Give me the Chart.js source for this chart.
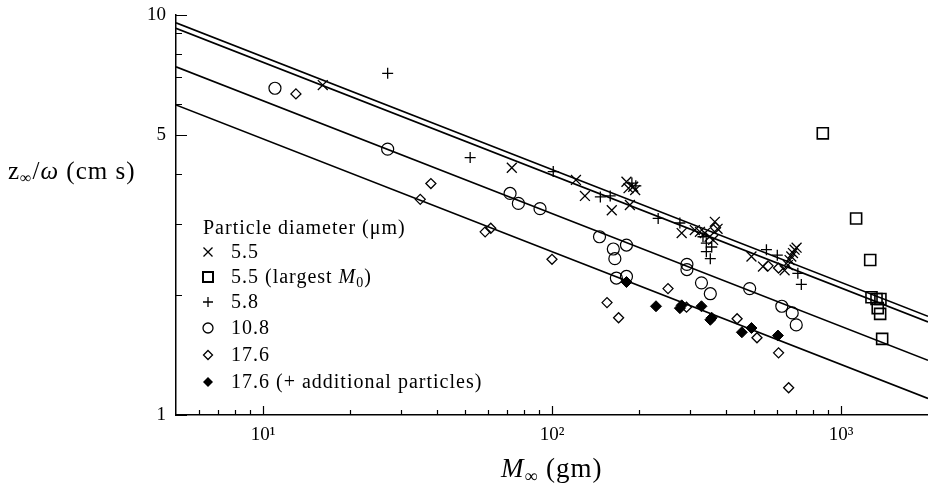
<!DOCTYPE html>
<html>
<head>
<meta charset="utf-8">
<script src="https://cdn.jsdelivr.net/npm/chart.js@4.4.1/dist/chart.umd.min.js"></script>
<style>
  html, body { margin: 0; padding: 0; background: #fff; }
</style>
</head>
<body>
<canvas id="fig" width="928" height="485"></canvas>
<script>
// axis ticks (log-log), labelled ones only at the decades / 1, 5, 10
const xTicks = [6, 7, 8, 9, 10, 20, 30, 40, 50, 60, 70, 80, 90, 100, 200, 300, 400, 500, 600, 700, 800, 900, 1000];
const xLabels = { 10: "10¹", 100: "10²", 1000: "10³" };
const yTicks = [1, 2, 3, 4, 5, 6, 7, 8, 9, 10];
const yLabels = { 1: "1", 5: "5", 10: "10" };
const xRange = [5, 2000];
const yRange = [1, 10];

// fitted power-law lines, value at M = 5 and at M = 2000
const fitM = [5, 2000];
const fitStart = [9.56, 9.26, 7.42, 5.96];
const fitEnd = [1.765, 1.709, 1.37, 1.1];

// 5.5 um
const crossM = [16.1, 72.6, 121, 130, 161, 181, 191, 194, 184, 186, 281, 312, 325, 338, 351, 361, 366, 374, 490, 537, 638, 655, 664, 673, 682, 691, 702];
const crossZ = [6.68, 4.15, 3.87, 3.53, 3.25, 3.83, 3.72, 3.65, 3.69, 3.35, 2.85, 2.9, 2.87, 2.85, 2.79, 2.74, 3.04, 2.92, 2.49, 2.35, 2.3, 2.37, 2.44, 2.49, 2.54, 2.59, 2.62];

// 5.5 um, largest M0
const squareM = [865, 1128, 1262, 1275, 1327, 1369, 1340, 1366, 1388];
const squareZ = [5.06, 3.1, 2.44, 1.97, 1.95, 1.95, 1.85, 1.79, 1.55];

// 5.8 um
const plusM = [27, 52.1, 101, 147, 159, 189, 195, 233, 277, 333, 342, 342, 353, 357, 552, 602, 709, 729];
const plusZ = [7.15, 4.4, 4.06, 3.51, 3.53, 3.8, 3.74, 3.1, 3.02, 2.79, 2.69, 2.56, 2.46, 2.63, 2.59, 2.51, 2.26, 2.12];

// 10.8 um
const circleM = [11, 27, 71.6, 76.5, 90.9, 146, 163, 165, 181, 167, 181, 293, 293, 329, 353, 483, 624, 678, 700];
const circleZ = [6.56, 4.62, 3.58, 3.38, 3.28, 2.79, 2.6, 2.46, 2.66, 2.2, 2.22, 2.38, 2.31, 2.14, 2.01, 2.07, 1.87, 1.8, 1.68];

// 17.6 um
const diamondM = [13, 38.1, 35, 58.7, 61.4, 100, 155, 170, 252, 292, 437, 512, 608, 559, 608, 368, 659];
const diamondZ = [6.35, 3.79, 3.46, 2.87, 2.93, 2.45, 1.91, 1.75, 2.07, 1.86, 1.74, 1.56, 1.43, 2.36, 2.33, 2.94, 1.17];

// 17.6 um (+ additional particles)
const solidM = [181, 229, 277, 281, 329, 353, 357, 454, 490, 605];
const solidZ = [2.15, 1.87, 1.85, 1.88, 1.87, 1.73, 1.75, 1.61, 1.65, 1.58];

const SERIF = '"Liberation Serif", "DejaVu Serif", serif';

const pts = (m, z) => m.map((v, i) => ({ x: v, y: z[i] }));

function fitLine(i) {
  return {
    type: "line",
    data: [{ x: fitM[0], y: fitStart[i] }, { x: fitM[1], y: fitEnd[i] }],
    borderColor: "#000",
    borderWidth: 1.6,
    pointRadius: 0,
    tension: 0,
    fill: false,
  };
}

function marks(m, z, style, r, fill, w) {
  return {
    type: "scatter",
    data: pts(m, z),
    pointStyle: style,
    pointRadius: r,
    pointBorderColor: "#000",
    pointBackgroundColor: fill ? "#000" : "rgba(0,0,0,0)",
    pointBorderWidth: w,
    borderColor: "#000",
    backgroundColor: fill ? "#000" : "rgba(0,0,0,0)",
  };
}

// legend marker shapes
function legendMark(ctx, kind, x, y) {
  ctx.beginPath();
  if (kind === "x") {
    ctx.moveTo(x - 4.5, y - 4.5); ctx.lineTo(x + 4.5, y + 4.5);
    ctx.moveTo(x + 4.5, y - 4.5); ctx.lineTo(x - 4.5, y + 4.5);
    ctx.lineWidth = 1.3; ctx.stroke();
  } else if (kind === "sq") {
    ctx.rect(x - 5, y - 5, 10, 10);
    ctx.lineWidth = 2; ctx.stroke();
  } else if (kind === "+") {
    ctx.moveTo(x - 5, y); ctx.lineTo(x + 5, y);
    ctx.moveTo(x, y - 5); ctx.lineTo(x, y + 5);
    ctx.lineWidth = 1.3; ctx.stroke();
  } else if (kind === "o") {
    ctx.arc(x, y, 5, 0, Math.PI * 2);
    ctx.lineWidth = 1.3; ctx.stroke();
  } else {
    const r = kind === "d" ? 4.5 : 5;
    ctx.moveTo(x, y - r); ctx.lineTo(x + r, y); ctx.lineTo(x, y + r); ctx.lineTo(x - r, y); ctx.closePath();
    ctx.lineWidth = 1.3;
    if (kind === "df") ctx.fill(); else ctx.stroke();
  }
}

// draw a run of [text, font, dy] pieces left to right
function runs(ctx, parts, x, y) {
  parts.forEach(([t, f, dy]) => {
    ctx.font = f;
    ctx.fillText(t, x, y + (dy || 0));
    x += ctx.measureText(t).width;
  });
}

// inward tick marks, axis titles and the key
const extras = {
  id: "extras",
  afterDraw(chart) {
    const { ctx, chartArea: a } = chart;
    const xs = chart.scales.x, ys = chart.scales.y;
    ctx.save();
    ctx.strokeStyle = "#000";
    ctx.fillStyle = "#000";
    ctx.lineWidth = 1.2;
    ctx.beginPath();
    xTicks.forEach(v => {
      const px = Math.round(xs.getPixelForValue(v)) + 0.5;
      const len = xLabels[v] ? 9 : 5;
      ctx.moveTo(px, a.bottom); ctx.lineTo(px, a.bottom - len);
    });
    yTicks.forEach(v => {
      const py = Math.round(ys.getPixelForValue(v)) + 0.5;
      const len = yLabels[v] ? 11 : 6;
      ctx.moveTo(a.left, py); ctx.lineTo(a.left + len, py);
    });
    ctx.stroke();

    ctx.textBaseline = "alphabetic";
    ctx.textAlign = "left";

    // y title
    ctx.letterSpacing = "1px";
    runs(ctx, [
      ["z", `25px ${SERIF}`],
      ["∞", `16px ${SERIF}`, 4],
      ["/", `25px ${SERIF}`],
      ["ω", `italic 25px ${SERIF}`],
      [" (cm s)", `25px ${SERIF}`],
    ], 8, 179);

    // x title
    runs(ctx, [
      ["M", `italic 27px ${SERIF}`],
      ["∞", `18px ${SERIF}`, 5],
      [" (gm)", `27px ${SERIF}`],
    ], 501, 477);

    // key
    ctx.font = `20px ${SERIF}`;
    ctx.fillText("Particle diameter (μm)", 203, 234);
    const rows = [
      ["x", [["5.5", `20px ${SERIF}`]]],
      ["sq", [["5.5 (largest ", `20px ${SERIF}`], ["M", `italic 20px ${SERIF}`], ["0", `14px ${SERIF}`, 4], [")", `20px ${SERIF}`]]],
      ["+", [["5.8", `20px ${SERIF}`]]],
      ["o", [["10.8", `20px ${SERIF}`]]],
      ["d", [["17.6", `20px ${SERIF}`]]],
      ["df", [["17.6 (+ additional particles)", `20px ${SERIF}`]]],
    ];
    const rowY = [252, 277, 302, 328, 355, 382];
    rows.forEach((r, i) => {
      legendMark(ctx, r[0], 208, rowY[i]);
      runs(ctx, r[1], 231, rowY[i] + 6);
    });
    ctx.restore();
  },
};

new Chart(document.getElementById("fig"), {
  type: "scatter",
  data: {
    datasets: [
      fitLine(0), fitLine(1), fitLine(2), fitLine(3),
      marks(crossM, crossZ, "crossRot", 7, false, 1.3),
      marks(squareM, squareZ, "rect", 7.8, false, 1.6),
      marks(plusM, plusZ, "cross", 5.5, false, 1.3),
      marks(circleM, circleZ, "circle", 6, false, 1.2),
      marks(diamondM, diamondZ, "rectRot", 5, false, 1.3),
      marks(solidM, solidZ, "rectRot", 5.5, true, 1),
    ],
  },
  options: {
    responsive: false,
    animation: false,
    devicePixelRatio: 1,
    layout: { autoPadding: false, padding: { top: 15, right: 0, bottom: 0, left: 0 } },
    plugins: { legend: { display: false }, tooltip: { enabled: false } },
    scales: {
      x: {
        type: "logarithmic",
        position: "bottom",
        min: xRange[0],
        max: xRange[1],
        afterBuildTicks: s => { s.ticks = [xRange[0], ...xTicks, xRange[1]].map(v => ({ value: v })); },
        afterFit: s => { s.height = 70; s.paddingLeft = 0; s.paddingRight = 0; },
        grid: { display: true, drawOnChartArea: false, drawTicks: false },
        border: { display: true, color: "#000", width: 1.5 },
        ticks: {
          autoSkip: false,
          maxRotation: 0,
          padding: 9,
          color: "#000",
          font: { family: SERIF, size: 19 },
          callback: v => xLabels[v] || "",
        },
      },
      y: {
        type: "logarithmic",
        position: "left",
        min: yRange[0],
        max: yRange[1],
        afterBuildTicks: s => { s.ticks = yTicks.map(v => ({ value: v })); },
        afterFit: s => { s.width = 176; s.paddingTop = 0; s.paddingBottom = 0; },
        grid: { display: true, drawOnChartArea: false, drawTicks: false },
        border: { display: true, color: "#000", width: 1.5 },
        ticks: {
          autoSkip: false,
          padding: 10,
          color: "#000",
          font: { family: SERIF, size: 19 },
          callback: v => yLabels[v] || "",
        },
      },
    },
  },
  plugins: [extras],
});
</script>
</body>
</html>
